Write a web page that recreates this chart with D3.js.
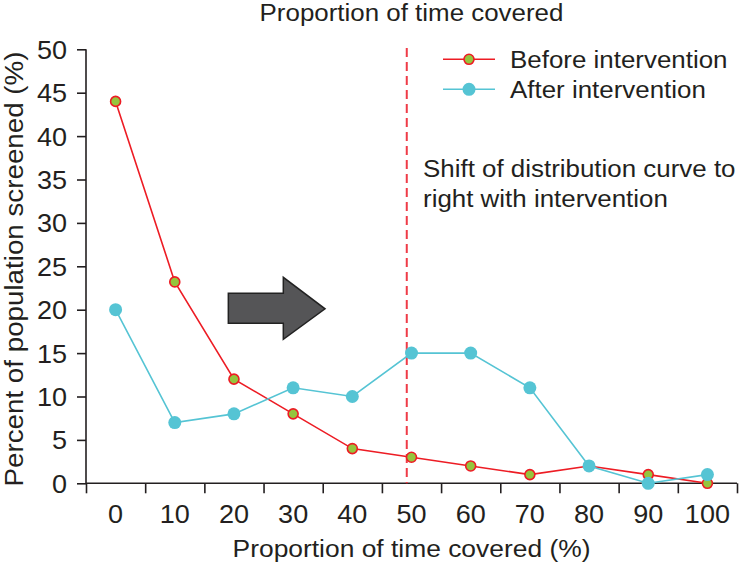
<!DOCTYPE html>
<html>
<head>
<meta charset="utf-8">
<script src="https://cdn.jsdelivr.net/npm/d3@7"></script>
<style>
  html, body { margin: 0; padding: 0; background: #fff; }
  svg { display: block; }
  text { font-family: "Liberation Sans", Arial, Helvetica, sans-serif; fill: #231f20; }
</style>
</head>
<body>
<svg id="chart" width="739" height="568"></svg>
<script>
// ---- data ----
const categories = [0, 10, 20, 30, 40, 50, 60, 70, 80, 90, 100];
const beforeValues = [44, 23.2, 12, 8, 4, 3, 2, 1, 2, 1, 0];
const afterValues  = [20, 7, 8, 11, 10, 15, 15, 11, 2, 0, 1];
const yTicks = [0, 5, 10, 15, 20, 25, 30, 35, 40, 45, 50];
const xBoundaries = [-5, 5, 15, 25, 35, 45, 55, 65, 75, 85, 95, 105];
const seriesNames = ["Before intervention", "After intervention"];
const chartTitle = "Proportion of time covered";
const xTitle = "Proportion of time covered (%)";
const yTitle = "Percent of population screened (%)";
const noteLines = ["Shift of distribution curve to", "right with intervention"];
const shiftMarker = 49.2;          // dashed reference line (x data units)
// arrow outline in data units [x, y]
const arrowShape = [[19.05, 21.9], [28.34, 21.9], [28.34, 23.73], [35.39, 20.1],
                    [28.34, 16.59], [28.34, 18.43], [19.05, 18.43]];

// ---- layout ----
const svg = d3.select("#chart");
const mLeft = 86, mRight = 737, mTop = 49.3, mBottom = 483.3;
const FS = 24, SX = 1.08;
const red = "#ed1c24", green = "#95c53d", cyan = "#55c4d4", ink = "#231f20";

const x = d3.scaleLinear().domain([-5, 105]).range([mLeft, mRight]);
const y = d3.scaleLinear().domain([0, 50]).range([mBottom, mTop]);

function label(px, py, str, anchor, rot, size, sx) {
  const g = svg.append("g")
    .attr("transform", `translate(${px},${py})` + (rot ? ` rotate(${rot})` : "") + ` scale(${sx || SX},1)`);
  g.append("text").attr("text-anchor", anchor || "start")
    .attr("font-size", size || FS).text(str);
  return g;
}

// axes
const yAxis = svg.append("g").attr("transform", `translate(${mLeft},0)`)
  .call(d3.axisLeft(y).tickValues(yTicks).tickSize(9).tickFormat(""));
const xAxis = svg.append("g").attr("transform", `translate(0,${mBottom})`)
  .call(d3.axisBottom(x).tickValues(xBoundaries).tickSize(10).tickFormat(""));
[yAxis, xAxis].forEach(a => {
  a.selectAll("path, line").attr("stroke", ink).attr("stroke-width", 1.6);
  a.select(".domain").remove();
});
yAxis.append("line").attr("x1", 0).attr("x2", 0).attr("y1", mTop).attr("y2", mBottom)
  .attr("stroke", ink).attr("stroke-width", 1.6);
xAxis.append("line").attr("x1", mLeft).attr("x2", mRight).attr("y1", 0).attr("y2", 0)
  .attr("stroke", ink).attr("stroke-width", 1.6);

yTicks.forEach(t => label(67, y(t) + 9.5, String(t), "end", 0, 26, 1.04));
categories.forEach(c => label(x(c), 522.5, String(c), "middle", 0, 26, 1.04));

// titles
label(411.5, 21, chartTitle, "middle");
label(411.5, 557, xTitle, "middle", 0, 24, 1.1);
label(23, 269, yTitle, "middle", -90, 25, 1.11);

// dashed reference line
svg.append("line")
  .attr("x1", x(shiftMarker)).attr("x2", x(shiftMarker))
  .attr("y1", 48).attr("y2", mBottom)
  .attr("stroke", "#ef3b47").attr("stroke-width", 2)
  .attr("stroke-dasharray", "9,5");

// arrow
svg.append("path")
  .attr("d", d3.line().x(d => x(d[0])).y(d => y(d[1]))(arrowShape) + "Z")
  .attr("fill", "#555557").attr("stroke", "#222").attr("stroke-width", 1.5);

// note
noteLines.forEach((t, i) => label(423, 177 + i * 30, t, "start"));

// series
const line = d3.line().x((d, i) => x(categories[i])).y(d => y(d));
svg.append("path").datum(beforeValues).attr("d", line)
  .attr("fill", "none").attr("stroke", red).attr("stroke-width", 1.6);
svg.append("g").selectAll("circle").data(beforeValues).join("circle")
  .attr("cx", (d, i) => x(categories[i])).attr("cy", d => y(d)).attr("r", 5)
  .attr("fill", green).attr("stroke", red).attr("stroke-width", 1.6);

svg.append("path").datum(afterValues).attr("d", line)
  .attr("fill", "none").attr("stroke", cyan).attr("stroke-width", 1.6);
svg.append("g").selectAll("circle").data(afterValues).join("circle")
  .attr("cx", (d, i) => x(categories[i])).attr("cy", d => y(d)).attr("r", 6.5)
  .attr("fill", cyan);

// legend
const legY = [59.3, 89.3];
seriesNames.forEach((name, i) => {
  const col = i === 0 ? red : cyan;
  svg.append("line").attr("x1", 443).attr("x2", 495).attr("y1", legY[i]).attr("y2", legY[i])
    .attr("stroke", col).attr("stroke-width", 1.6);
  svg.append("circle").attr("cx", 469).attr("cy", legY[i]).attr("r", i === 0 ? 5 : 6.5)
    .attr("fill", i === 0 ? green : cyan)
    .attr("stroke", i === 0 ? red : "none").attr("stroke-width", 1.6);
  label(510, legY[i] + 8.3, name, "start");
});
</script>
</body>
</html>
